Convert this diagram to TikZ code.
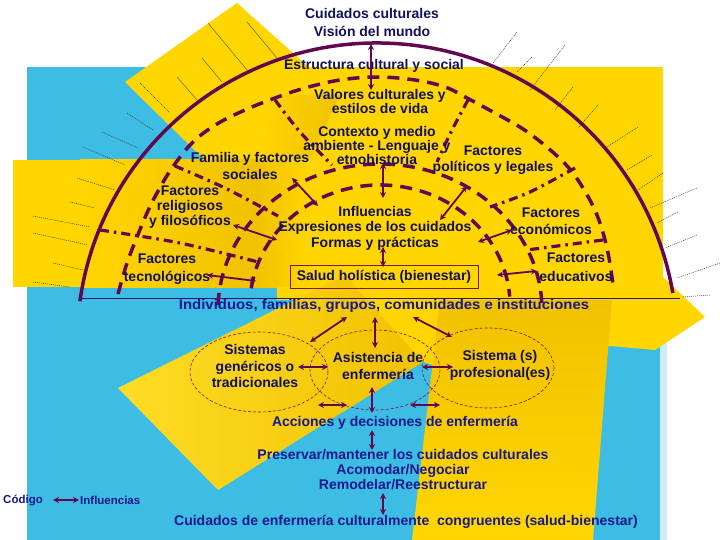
\documentclass[tikz,border=0pt]{standalone}
\usepackage{fontspec}
\setmainfont{Liberation Sans}
\usetikzlibrary{arrows.meta}
\definecolor{yel}{RGB}{255,214,0}
\definecolor{gold}{RGB}{240,194,0}
\definecolor{blu}{RGB}{61,189,228}
\definecolor{lblu}{RGB}{205,236,246}
\definecolor{arcc}{RGB}{98,8,80}
\definecolor{txtc}{RGB}{18,16,96}
\definecolor{txtb}{RGB}{24,24,140}
\definecolor{ellc}{RGB}{128,20,60}
\begin{document}
\begin{tikzpicture}[x=1pt,y=-1pt,
  lbl/.style={font=\bfseries\fontsize{14}{#1}\selectfont, text=txtc, align=center, inner sep=0pt},
  lbl/.default=15,
  lblb/.style={lbl=#1, text=txtb},
  lblb/.default=15,
  small/.style={font=\bfseries\fontsize{11.5}{13}\selectfont, text=txtb, inner sep=0pt},
  solidarc/.style={draw=arcc, line width=3.5pt},
  darc/.style={draw=arcc, line width=3.5pt, dash pattern=on 12pt off 8pt},
  ddiv/.style={draw=arcc, line width=3.2pt, dash pattern=on 9pt off 5pt on 2.5pt off 5pt},
  ray/.style={draw=black!80, line width=0.5pt, dash pattern=on 1pt off 1pt},
  sray/.style={draw=black!70, line width=0.4pt},
  ell/.style={draw=ellc, line width=0.6pt, dash pattern=on 3pt off 2pt},
  arr/.style={draw=arcc, line width=1.8pt, {Stealth[length=6pt,width=6pt]}-{Stealth[length=6pt,width=6pt]}}
]
\useasboundingbox (0,0) rectangle (720,540);
\fill[white] (0,0) rectangle (720,540);
% background
\fill[blu] (27,67) rectangle (660,540);
\fill[lblu] (660,300) rectangle (667,540);
\fill[yel] (240,67) rectangle (663,287);
\fill[yel] (277,287) rectangle (663,300);
\fill[yel] (13,160) rectangle (290,287);
\fill[yel] (237,3) -- (340,95) -- (220,175) -- (125,82) -- cycle;
\shade[left color=yel, right color=gold] (80,160) rectangle (255,287);
\shade[left color=gold, right color=yel] (255,160) rectangle (310,287);
\shade[left color=yel, right color=gold] (280,95) -- (340,95) -- (310,160) -- (255,160) -- cycle;
\fill[yel] (600,290) -- (640,255) -- (705,317) -- (655,350) -- (600,345) -- cycle;
\fill[yel] (277,287) -- (445,287) -- (433,365) -- (423,362) -- cycle;
\shade[left color=yel!85!white, right color=gold] (118,388) -- (218,490) -- (423,362) -- (345,275) -- cycle;
\shade[top color=gold, bottom color=yel] (440,300) -- (612,300) -- (593,540) -- (412,540) -- cycle;
% rays
\draw[sray] (208,23) -- (247,70);
\draw[sray] (247,22) -- (277,58);
\draw[sray] (202,58) -- (222,82);
\draw[sray] (177,77) -- (197,100);
\draw[ray] (140,83) -- (170,113);
\draw[ray] (127,113) -- (153,130);
\draw[ray] (102,132) -- (138,148);
\draw[ray] (83,147) -- (125,165);
\draw[ray] (77,178) -- (115,190);
\draw[ray] (70,202) -- (95,208);
\draw[ray] (33,216) -- (90,227);
\draw[ray] (33,233) -- (88,245);
\draw[ray] (53,263) -- (83,270);
\draw[ray] (33,282) -- (70,287);
\draw[ray] (517,32) -- (493,63);
\draw[ray] (532,57) -- (517,72);
\draw[ray] (565,45) -- (530,90);
\draw[ray] (573,87) -- (555,110);
\draw[ray] (598,105) -- (578,128);
\draw[ray] (638,127) -- (607,147);
\draw[ray] (652,155) -- (627,170);
\draw[ray] (663,173) -- (638,190);
\draw[ray] (697,188) -- (650,208);
\draw[ray] (678,212) -- (657,223);
\draw[ray] (697,235) -- (665,248);
\draw[ray] (720,263) -- (677,278);
\draw[ray] (710,295) -- (682,297);
% base line
\draw[draw=txtb!70!arcc, line width=0.8pt] (80,298) -- (680,298);
% arcs
\draw[solidarc] (377,343) ++(-172:300) arc[start angle=-172, end angle=-9.6, radius=300];
\draw[darc] plot[smooth, tension=0.6] coordinates {(118,294) (127,263) (137,237) (147,213) (157,193) (172,168) (193,142) (217,124) (245,110) (275,98) (305,88) (340,80) (377,77) (415,80) (445,87) (467,98) (493,112) (523,129) (548,148) (568,167) (583,188) (597,215) (607,248) (613,284)};
\draw[darc] (380,310) ++(-178:162 and 146) arc[start angle=-178, end angle=-2, x radius=162, y radius=146];
\draw[darc] (380,305) ++(-172:130 and 120) arc[start angle=-172, end angle=-4, x radius=130, y radius=120];
% dividers
\draw[ddiv] plot[smooth] coordinates {(275,100) (300,132) (332,165)};
\draw[ddiv] plot[smooth] coordinates {(468,100) (452,130) (437,162)};
\draw[ddiv] plot[smooth] coordinates {(175,166) (225,188) (278,216)};
\draw[ddiv] plot[smooth] coordinates {(100,230) (180,243) (258,262)};
\draw[ddiv] plot[smooth] coordinates {(575,168) (530,192) (490,207)};
\draw[ddiv] plot[smooth] coordinates {(603,240) (565,245) (527,250)};
% ellipses
\node[inner sep=0pt] (e1) at (259,372) {};
\draw[ell] (e1) ellipse [x radius=69, y radius=40];
\node[inner sep=0pt] (e2) at (375,370) {};
\draw[ell] (e2) ellipse [x radius=65, y radius=40];
\node[inner sep=0pt] (e3) at (488,368) {};
\draw[ell] (e3) ellipse [x radius=66, y radius=40];
% texts
\node[lbl=18] (cc) at (372,22) {Cuidados culturales\\Visión del mundo};
\node[lbl] (ecs) at (374,66) {Estructura cultural y social};
\node[lbl=14] (val) at (380,101) {Valores culturales y\\estilos de vida};
\node[lbl=12.5] (ctx) at (377,145.5) {Contexto y medio\\ambiente - Lenguaje y\\etnohistoria};
\node[lbl=17] (fam) at (250,166) {Familia y factores\\sociales};
\node[lbl=16] (pol) at (493,160) {Factores\\políticos y legales};
\node[lbl=15] (rel) at (190,207) {Factores\\religiosos\\y filosóficos};
\node[lbl=18] (tec) at (167,269) {Factores\\tecnológicos};
\node[lbl=15.5] (inf) at (375,228) {Influencias\\Expresiones de los cuidados\\Formas y prácticas};
\node[lbl=17] (eco) at (551,221.5) {Factores\\económicos};
\node[lbl=19] (edu) at (576,267.5) {Factores\\educativos};
\node[lbl, draw=ellc, line width=0.7pt, minimum width=188pt, minimum height=23pt] (sal) at (384,276.5) {Salud holística (bienestar)};
\node[lblb] (ind) at (384,306) {\scalebox{1.065}[1]{Individuos, familias, grupos, comunidades e instituciones}};
\node[lbl=16.5] (sg) at (255,366) {Sistemas\\genéricos o\\tradicionales};
\node[lbl=17] (ae) at (378,365.5) {Asistencia de\\enfermería};
\node[lbl=17] (sp) at (500,365.5) {Sistema (s)\\profesional(es)};
\node[lblb] (acc) at (395,423) {Acciones y decisiones de enfermería};
\node[lblb=15] (pre) at (403,470) {Preservar/mantener los cuidados culturales\\Acomodar/Negociar\\Remodelar/Reestructurar};
\node[small, anchor=west] (cod) at (3,500) {Código};
\node[small, anchor=west] (infl) at (80,500) {Influencias};
\node[lblb] (cuid) at (406,522) {Cuidados de enfermería culturalmente\ \ congruentes (salud-bienestar)};
% arrow end points
\coordinate (a1s) at (371,44); \coordinate (a1e) at (371,90);
\coordinate (a2s) at (383,163); \coordinate (a2e) at (383,198);
\coordinate (a3s) at (292,178); \coordinate (a3e) at (318,206);
\coordinate (a4s) at (467,186); \coordinate (a4e) at (440,220);
\coordinate (a5s) at (233,225); \coordinate (a5e) at (277,240);
\coordinate (a6s) at (512,230); \coordinate (a6e) at (478,242);
\coordinate (a7s) at (383,247); \coordinate (a7e) at (383,267);
\coordinate (a8s) at (207,275); \coordinate (a8e) at (256,281);
\coordinate (a9s) at (497,275); \coordinate (a9e) at (537,271);
\coordinate (b1s) at (310,342); \coordinate (b1e) at (347,317);
\coordinate (b2s) at (375,317); \coordinate (b2e) at (375,348);
\coordinate (b3s) at (413,317); \coordinate (b3e) at (452,337);
\coordinate (b4s) at (298,367); \coordinate (b4e) at (328,367);
\coordinate (b5s) at (422,367); \coordinate (b5e) at (453,367);
\coordinate (b6s) at (318,405); \coordinate (b6e) at (347,405);
\coordinate (b7s) at (410,405); \coordinate (b7e) at (440,405);
\coordinate (b8s) at (372,387); \coordinate (b8e) at (372,413);
\coordinate (b9s) at (372,430); \coordinate (b9e) at (372,450);
\coordinate (c1s) at (383,493); \coordinate (c1e) at (383,515);
\coordinate (lgs) at (53,500); \coordinate (lge) at (79,500);
\foreach \s/\e in {a1s/a1e,a2s/a2e,a3s/a3e,a4s/a4e,a5s/a5e,a6s/a6e,a7s/a7e,a8s/a8e,a9s/a9e,b1s/b1e,b2s/b2e,b3s/b3e,b4s/b4e,b5s/b5e,b6s/b6e,b7s/b7e,b8s/b8e,b9s/b9e,c1s/c1e,lgs/lge}
  \draw[arr] (\s) -- (\e);
\end{tikzpicture}
\end{document}
